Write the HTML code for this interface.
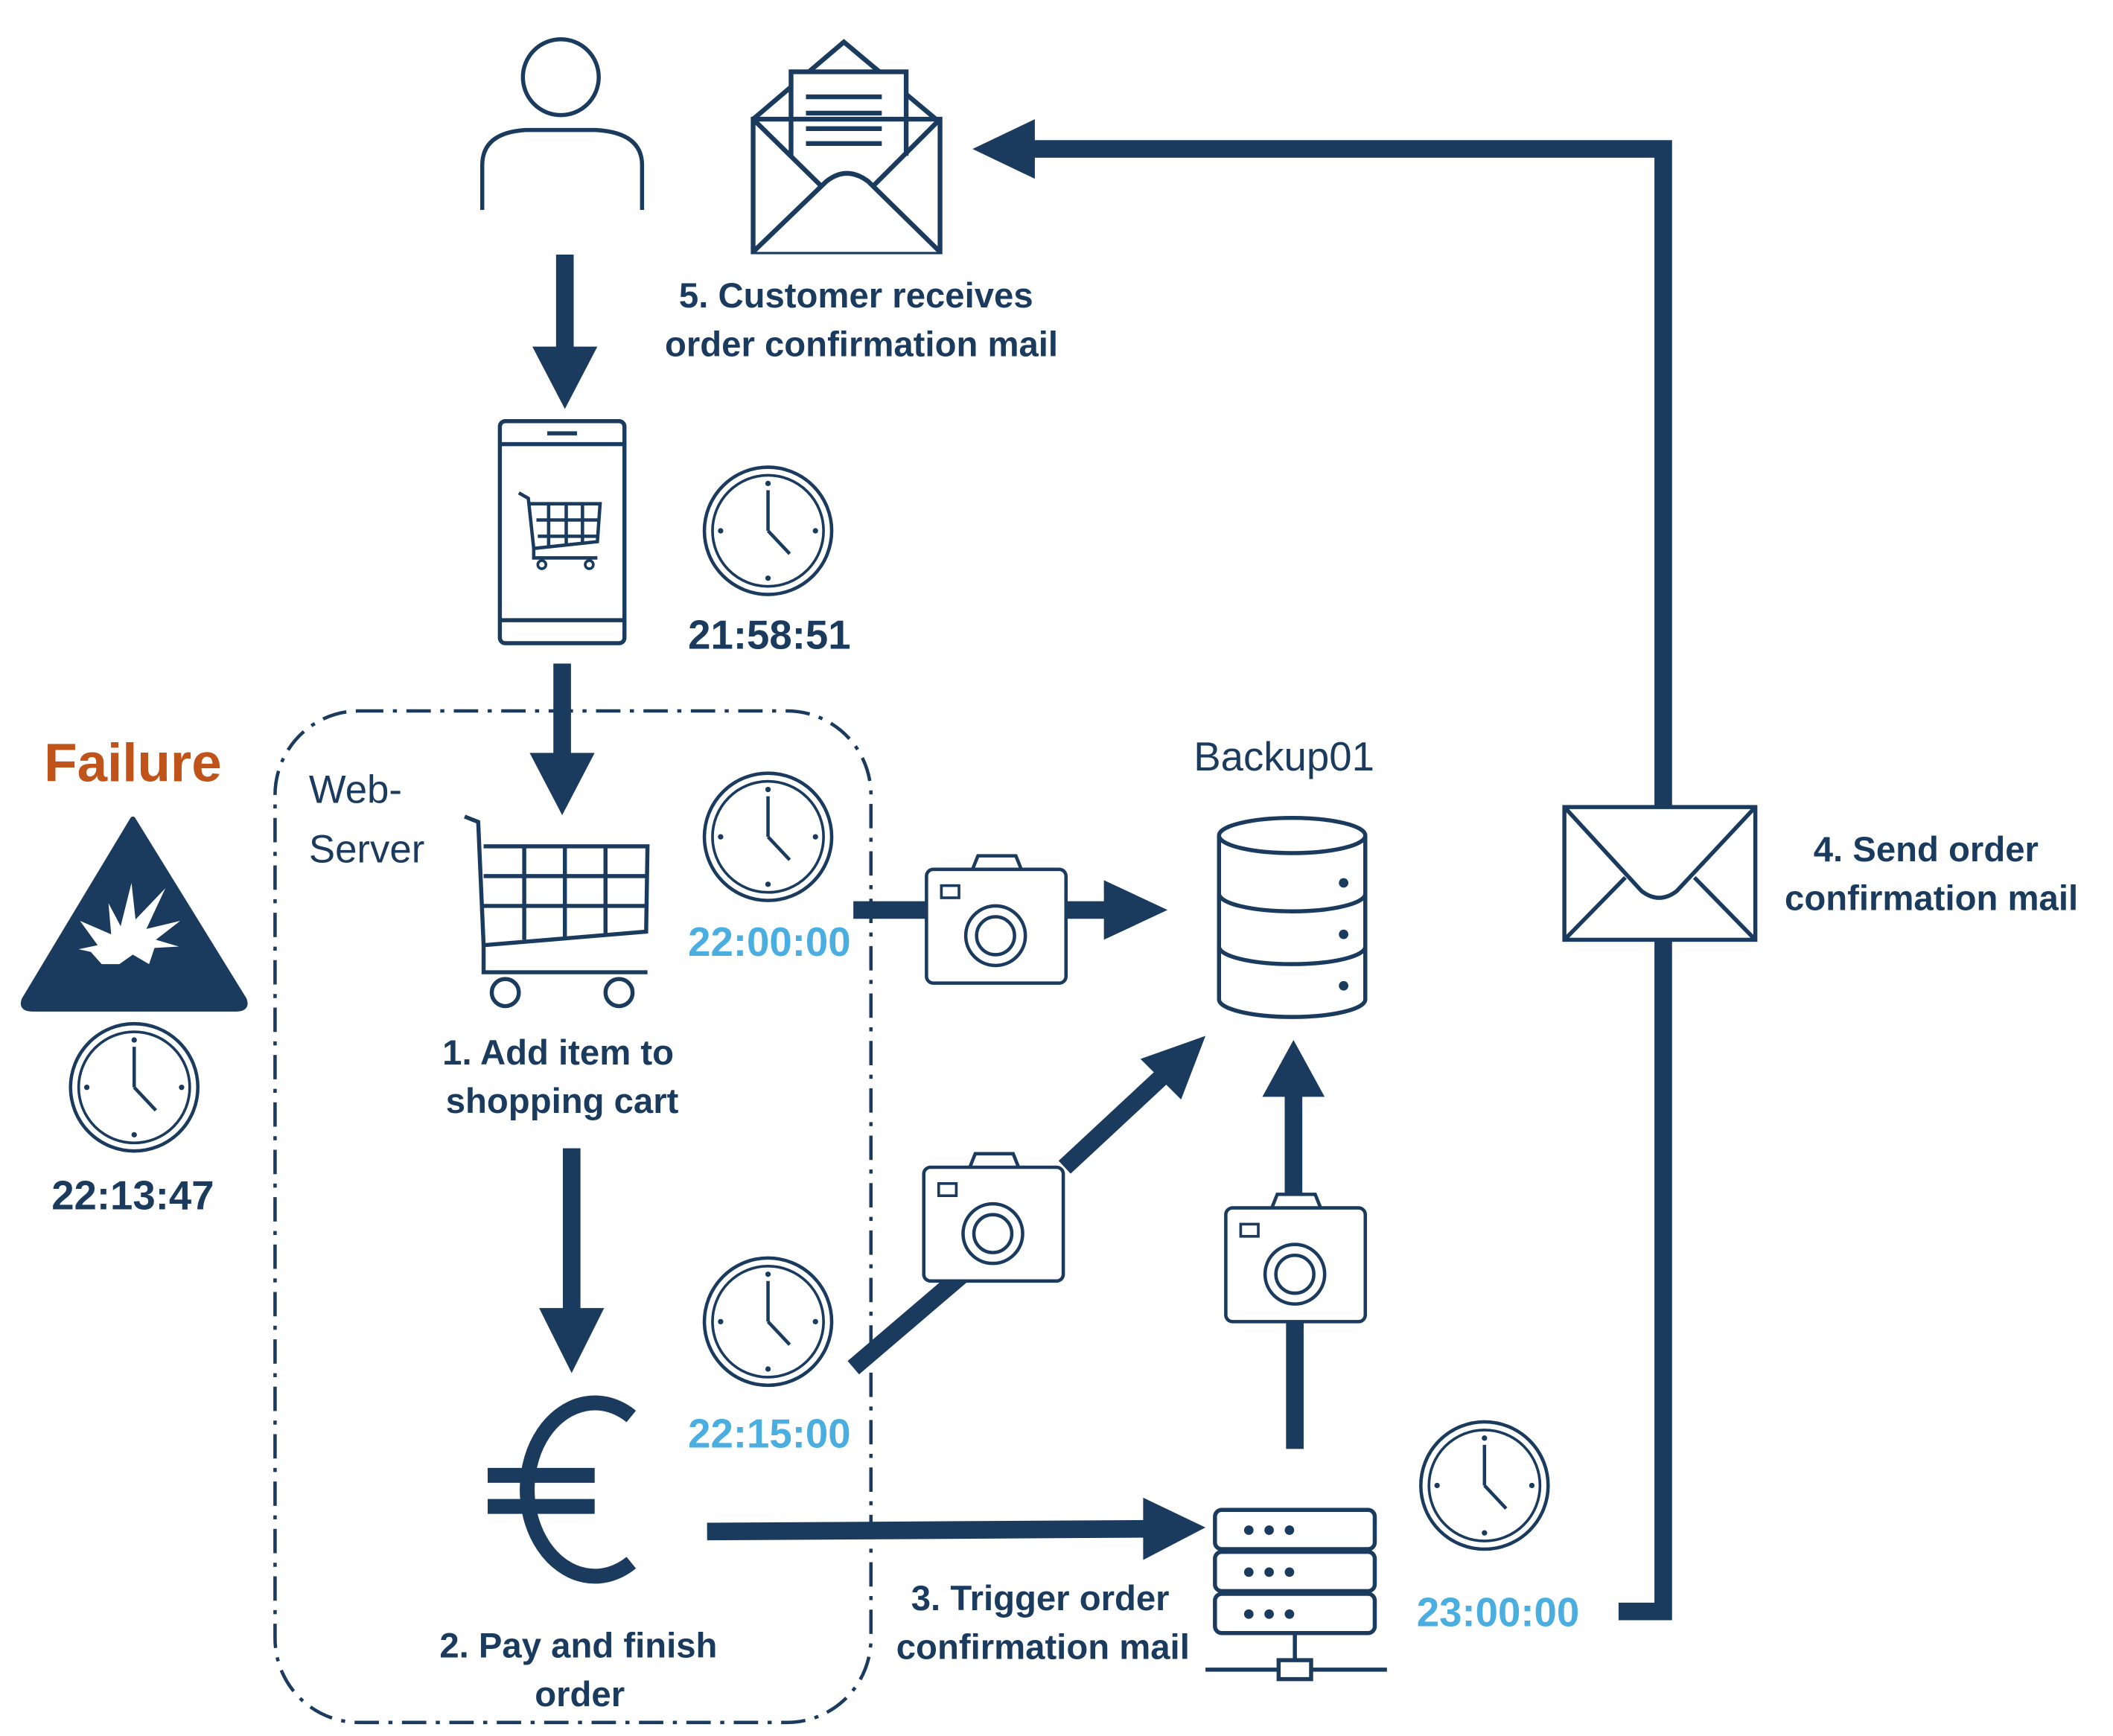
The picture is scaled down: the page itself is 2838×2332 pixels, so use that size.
<!DOCTYPE html>
<html><head><meta charset="utf-8"><style>
html,body{margin:0;padding:0;background:#fff;}
svg{display:block;}
text{font-family:"Liberation Sans",sans-serif;}
.b{font-weight:bold;font-size:26px;fill:#1b3b5e;}
.t{font-weight:bold;font-size:30px;}
</style></head><body>
<svg width="2838" height="2332" viewBox="0 0 1560 1282" xmlns="http://www.w3.org/2000/svg">
<defs>
<g id="clk">
<circle r="47" fill="#fff" stroke="#1b3b5e" stroke-width="2.5"/>
<circle r="41" fill="none" stroke="#1b3b5e" stroke-width="2"/>
<line x1="0" y1="0" x2="0" y2="-30" stroke="#1b3b5e" stroke-width="2.5"/>
<line x1="0" y1="0" x2="16" y2="17" stroke="#1b3b5e" stroke-width="2.5"/>
<circle cx="0" cy="-35" r="2" fill="#1b3b5e"/><circle cx="0" cy="35" r="2" fill="#1b3b5e"/>
<circle cx="-35" cy="0" r="2" fill="#1b3b5e"/><circle cx="35" cy="0" r="2" fill="#1b3b5e"/>
</g>
<g id="cam">
<path d="M34 0 L38 -10 L66 -10 L70 0" fill="#fff" stroke="#1b3b5e" stroke-width="2.5"/>
<rect x="0" y="0" width="103" height="84" rx="5" fill="#fff" stroke="#1b3b5e" stroke-width="2.5"/>
<rect x="11" y="12" width="13" height="9" fill="none" stroke="#1b3b5e" stroke-width="2"/>
<circle cx="51" cy="49" r="22" fill="none" stroke="#1b3b5e" stroke-width="2.5"/>
<circle cx="51" cy="49" r="14" fill="none" stroke="#1b3b5e" stroke-width="2.5"/>
</g>
</defs>
<g stroke="#1b3b5e" fill="none">
<polyline points="1195,1190 1228,1190 1228,110 760,110" stroke-width="13"/>
<polygon points="718,110 764,88 764,132" fill="#1b3b5e" stroke="none"/>
<circle cx="414" cy="57" r="28" stroke-width="3"/>
<path d="M356 155 L356 122 Q356 98 388 96 L440 96 Q474 98 474 122 L474 155" stroke-width="3"/>
<!-- mail with letter -->
<path d="M556 88 L623 31 L691 88" stroke-width="3.5"/>
<path d="M584 115 V53 H669 V115" stroke-width="3.5" fill="#fff"/>
<path d="M595 71.5 H651 M595 83.5 H651 M595 95 H651 M595 106 H651" stroke-width="3.5"/>
<path d="M556 88 V186 H694 V88 Z" stroke-width="3.5"/>
<path d="M556 88 L610 141 M694 88 L641 141" stroke-width="3.5"/>
<path d="M556 186 L610 134 Q625 122 641 134 L694 186" stroke-width="3.5" fill="#fff"/>
<line x1="417" y1="188" x2="417" y2="262" stroke-width="13"/>
<polygon points="393,256 441,256 417,302" fill="#1b3b5e" stroke="none"/>
<rect x="369" y="311" width="92" height="164" rx="4" stroke-width="3"/>
<path d="M369 328 H461 M369 458 H461" stroke-width="3"/>
<line x1="404" y1="320" x2="426" y2="320" stroke-width="3"/>
<path d="M383 364 L390 368 L394 405 L441 400 L443 372 L390 372 M396 384 H442 M397 396 H441 M405 372 V404 M418 372 V403 M430 372 V402 M394 405 L394 412 L441 412" stroke-width="2.5"/>
<circle cx="400" cy="417" r="3" stroke-width="2"/><circle cx="435" cy="417" r="3" stroke-width="2"/>
<line x1="415" y1="490" x2="415" y2="562" stroke-width="13"/>
<polygon points="391,556 439,556 415,602" fill="#1b3b5e" stroke="none"/>
<rect x="203" y="525" width="440" height="747" rx="62" stroke-width="2.5" stroke-dasharray="18,7,3,7"/>
<path d="M343 603 L353 607 L357 698 L477 688 L478 625 L357 625 M357 647 H478 M357 669 H478 M387 625 V694 M417 625 V692 M447 625 V690 M357 698 L357 718 L478 718" stroke-width="3"/>
<circle cx="373" cy="733" r="10" stroke-width="3"/><circle cx="457" cy="733" r="10" stroke-width="3"/>
<line x1="630" y1="672" x2="684" y2="672" stroke-width="13"/>
<line x1="786" y1="672" x2="822" y2="672" stroke-width="13"/>
<polygon points="815,650 815,694 862,672" fill="#1b3b5e" stroke="none"/>
<path d="M900 617 V738 A54 13 0 0 0 1008 738 V617" stroke-width="3" fill="#fff"/>
<ellipse cx="954" cy="617" rx="54" ry="13" stroke-width="3"/>
<path d="M900 660 A54 13 0 0 0 1008 660 M900 699 A54 13 0 0 0 1008 699" stroke-width="3"/>
<line x1="422" y1="848" x2="422" y2="972" stroke-width="13"/>
<polygon points="398,966 446,966 422,1014" fill="#1b3b5e" stroke="none"/>
<path d="M466 1046 A50 64 0 1 0 466 1154" stroke-width="11"/>
<path d="M360 1089.5 H439 M360 1112.5 H439" stroke-width="11"/>
<line x1="630" y1="1010" x2="712" y2="940" stroke-width="13"/>
<line x1="786" y1="862" x2="858" y2="795" stroke-width="13"/>
<polygon points="890,765 842,782 872,812" fill="#1b3b5e" stroke="none"/>
<line x1="956" y1="1070" x2="956" y2="966" stroke-width="13"/>
<line x1="955" y1="882" x2="955" y2="806" stroke-width="13"/>
<polygon points="932,810 978,810 955,768" fill="#1b3b5e" stroke="none"/>
<line x1="522" y1="1131" x2="850" y2="1129" stroke-width="13"/>
<polygon points="844,1106 844,1152 890,1128" fill="#1b3b5e" stroke="none"/>
<rect x="897" y="1115" width="118" height="29" rx="5" stroke-width="3"/>
<rect x="897" y="1146" width="118" height="29" rx="5" stroke-width="3"/>
<rect x="897" y="1177" width="118" height="29" rx="5" stroke-width="3"/>
<path d="M956 1207 V1226 M890 1233 H944 M968 1233 H1024" stroke-width="3"/>
<rect x="944" y="1226" width="24" height="14" stroke-width="3"/>
<rect x="1155" y="596" width="141" height="98" stroke-width="3" fill="#fff"/>
<path d="M1155 596 L1212 658 Q1225 668 1238 658 L1296 596 M1155 694 L1200 648 M1296 694 L1251 648" stroke-width="3"/>
<path d="M98 605 L180 738 Q183 745 174 745 L24 745 Q15 745 18 738 Z" fill="#1b3b5e" stroke="#1b3b5e" stroke-width="4" stroke-linejoin="round"/>
<polygon points="75,712 67,703 58,701 72,698 59,680 82,690 80,667 89,684 97,652 100,679 122,656 108,686 133,680 115,694 132,699 114,700 110,712 98,705 88,712" fill="#fff" stroke="none"/>
</g>
<g fill="#1b3b5e">
<circle cx="922" cy="1130" r="3.5"/><circle cx="937" cy="1130" r="3.5"/><circle cx="952" cy="1130" r="3.5"/>
<circle cx="922" cy="1161" r="3.5"/><circle cx="937" cy="1161" r="3.5"/><circle cx="952" cy="1161" r="3.5"/>
<circle cx="922" cy="1192" r="3.5"/><circle cx="937" cy="1192" r="3.5"/><circle cx="952" cy="1192" r="3.5"/>
<circle cx="992" cy="652" r="3.5"/><circle cx="992" cy="690" r="3.5"/><circle cx="992" cy="728" r="3.5"/>
</g>
<use href="#cam" x="684" y="642"/>
<use href="#cam" x="682" y="862"/>
<use href="#cam" x="905" y="892"/>
<use href="#clk" x="567" y="392"/>
<use href="#clk" x="567" y="618"/>
<use href="#clk" x="567" y="976"/>
<use href="#clk" x="1096" y="1097"/>
<use href="#clk" x="99" y="803"/>
<text class="b" x="632" y="227" text-anchor="middle">5. Customer receives</text>
<text class="b" x="636" y="263" text-anchor="middle">order confirmation mail</text>
<text class="b" x="412" y="786" text-anchor="middle">1. Add item to</text>
<text class="b" x="415" y="822" text-anchor="middle">shopping cart</text>
<text class="b" x="427" y="1224" text-anchor="middle">2. Pay and finish</text>
<text class="b" x="428" y="1260" text-anchor="middle">order</text>
<text class="b" x="768" y="1189" text-anchor="middle">3. Trigger order</text>
<text class="b" x="770" y="1225" text-anchor="middle">confirmation mail</text>
<text class="b" x="1422" y="636" text-anchor="middle">4. Send order</text>
<text class="b" x="1426" y="672" text-anchor="middle">confirmation mail</text>
<text class="t" x="568" y="479" text-anchor="middle" fill="#1b3b5e">21:58:51</text>
<text class="t" x="568" y="706" text-anchor="middle" fill="#4aaee0">22:00:00</text>
<text class="t" x="568" y="1069" text-anchor="middle" fill="#4aaee0">22:15:00</text>
<text class="t" x="1106" y="1201" text-anchor="middle" fill="#4aaee0">23:00:00</text>
<text class="t" x="98" y="893" text-anchor="middle" fill="#1b3b5e">22:13:47</text>
<text x="98" y="577" text-anchor="middle" font-size="40" font-weight="bold" fill="#c0531a">Failure</text>
<text x="948" y="569" text-anchor="middle" font-size="30" fill="#1b3b5e">Backup01</text>
<text x="228" y="593" font-size="29" fill="#1b3b5e">Web-</text>
<text x="228" y="637" font-size="29" fill="#1b3b5e">Server</text>
</svg>
</body></html>
